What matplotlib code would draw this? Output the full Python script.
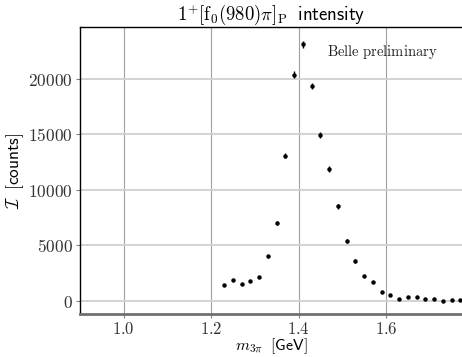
import matplotlib.pyplot as plt
from matplotlib.ticker import FuncFormatter

plt.rcParams['mathtext.fontset'] = 'cm'
plt.rcParams['font.family'] = 'DejaVu Sans'

# masses (GeV) and intensities
m3pi = [1.23, 1.25, 1.27, 1.29, 1.31, 1.33, 1.35, 1.37, 1.39, 1.41,
        1.43, 1.45, 1.47, 1.49, 1.51, 1.53, 1.55, 1.57, 1.59, 1.61,
        1.63, 1.65, 1.67, 1.69, 1.71, 1.73, 1.75, 1.77]
counts = [1450, 1890, 1560, 1800, 2160, 4030, 7030, 13090, 20390, 23120,
          19370, 14950, 11890, 8530, 5430, 3600, 2250, 1710, 780, 570,
          180, 390, 330, 180, 150, 20, 120, 60]
errors = [90, 100, 90, 100, 110, 140, 180, 250, 300, 320,
          290, 260, 240, 210, 170, 140, 110, 100, 80, 70,
          60, 60, 60, 50, 50, 50, 50, 50]

fig = plt.figure(figsize=(4.62, 3.57), dpi=100)
ax = fig.add_axes([80/462, 1-314/357, 1-80/462, (314-27)/357])

ax.errorbar(m3pi, counts, yerr=errors, fmt='o', color='black',
            markersize=2.2, elinewidth=1.0, capsize=0, zorder=3)

ax.set_xlim(0.9, 1.774)
ax.set_ylim(-1170, 24680)
ax.set_xticks([1.0, 1.2, 1.4, 1.6])
ax.set_yticks([0, 5000, 10000, 15000, 20000])
ax.xaxis.set_major_formatter(FuncFormatter(lambda v, p: f'${v:.1f}$'))
ax.yaxis.set_major_formatter(FuncFormatter(lambda v, p: f'${int(v)}$'))
ax.tick_params(labelsize=12.5, length=3, direction='out', color='#808080',
               pad=2, labelcolor='#333333')
ax.tick_params(axis='x', pad=1, labelsize=12)

ax.xaxis.grid(True, color='#a0a0a0', lw=0.8)
ax.yaxis.grid(True, color='#d0d0d0', lw=1.3)
ax.set_axisbelow(True)

ax.spines['right'].set_visible(False)
ax.spines['bottom'].set_color('#707070')
ax.spines['bottom'].set_linewidth(2)
ax.spines['left'].set_linewidth(1)
ax.spines['top'].set_linewidth(1)

ax.set_title(r'$1^{+}[\mathrm{f}_0(980)\pi]_\mathrm{P}\;\ \mathsf{intensity}$',
             fontsize=13.5, pad=1)
ax.set_xlabel(r'$m_{3\pi}\;\ \mathsf{[GeV]}$', fontsize=11.5, labelpad=-1)
ax.set_ylabel(r'$\mathcal{I}\;\ \mathsf{[counts]}$', fontsize=12.5, labelpad=2)
ax.text(1.465, 22070, r'$\mathrm{Belle\ preliminary}$', fontsize=10.5,
        color='#222222')

plt.savefig('out.png', dpi=100)
